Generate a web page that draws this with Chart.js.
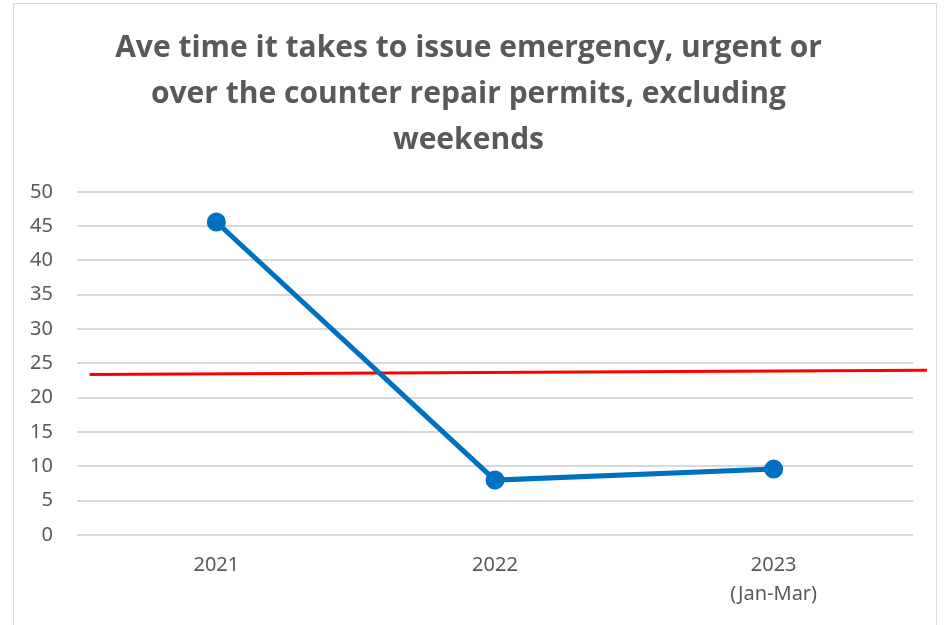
<!DOCTYPE html>
<html>
<head>
<meta charset="utf-8">
<script src="https://cdn.jsdelivr.net/npm/chart.js@4.4.1/dist/chart.umd.min.js"></script>
<style>
  html, body { margin: 0; padding: 0; background: #fff; }
  #box {
    position: absolute; left: 13px; top: 3px;
    width: 924px; height: 640px;
    border: 1px solid #d9d9d9; box-sizing: border-box;
  }
  #wrap { position: absolute; left: 0; top: 0; width: 922px; height: 622px; }
</style>
</head>
<body>
<div id="box"><div id="wrap"><canvas id="chart"></canvas></div></div>
<script>
// chart data
var categories = ['2021', '2022', ['2023', '(Jan-Mar)']];
var avgDays = [45.6, 8, 9.6];
var yTicks = [0, 50, 5];          // min, max, step
// red reference line, in category-index units along x
var targetX = [-0.455, 2.55];
var targetY = [23.4, 24.0];

var titleLines = [
    'Ave time it takes to issue emergency, urgent or',
    'over the counter repair permits, excluding',
    'weekends'
];

var grey = '#595959';

var ctx = document.getElementById('chart').getContext('2d');
var chart = new Chart(ctx, {
    type: 'line',
    data: {
        labels: categories,
        datasets: [{
            label: 'Average days',
            data: avgDays,
            borderColor: '#0070c0',
            backgroundColor: '#0070c0',
            borderWidth: 5,
            pointRadius: 7,
            pointHoverRadius: 7,
            tension: 0
        }, {
            label: 'Target',
            data: targetX.map(function(x, i) { return { x: x, y: targetY[i] }; }),
            xAxisID: 'x2',
            borderColor: '#ff0000',
            borderWidth: 3,
            pointRadius: 0,
            clip: false
        }]
    },
    options: {
        responsive: true,
        maintainAspectRatio: false,
        animation: false,
        layout: { padding: { left: 10, right: 23, top: 22, bottom: 9 } },
        plugins: {
            legend: { display: false },
            tooltip: { enabled: false },
            title: {
                display: true,
                text: titleLines,
                color: grey,
                font: { family: 'Open Sans', size: 30, weight: 'bold', lineHeight: 1.52 },
                padding: { top: 0, bottom: 29 }
            }
        },
        scales: {
            x: {
                offset: true,
                grid: { display: false },
                border: { display: false },
                ticks: {
                    color: grey,
                    font: { family: 'Noto Sans', size: 20, lineHeight: 1.45 },
                    padding: 8,
                    maxRotation: 0
                }
            },
            x2: {
                type: 'linear',
                display: false,
                min: -0.5,
                max: 2.5
            },
            y: {
                min: yTicks[0],
                max: yTicks[1],
                ticks: {
                    stepSize: yTicks[2],
                    color: grey,
                    font: { family: 'Noto Sans', size: 20 },
                    padding: 24
                },
                grid: { color: '#d9d9d9', lineWidth: 2, drawTicks: false },
                border: { display: false },
                afterFit: function(scale) { scale.width = 53; }
            }
        }
    }
});
</script>
</body>
</html>
